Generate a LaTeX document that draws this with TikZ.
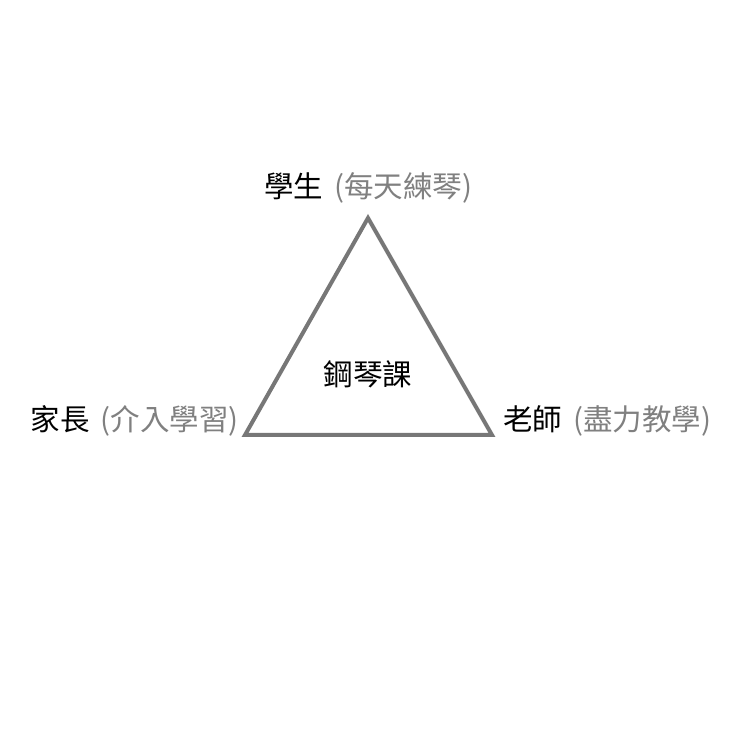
\documentclass[tikz,border=0pt]{standalone}
\usepackage{fontspec}
\setmainfont{Noto Sans CJK TC}
\definecolor{tri}{HTML}{777777}
\definecolor{sub}{HTML}{808080}
\newcommand{\gapsp}{\hspace{11pt}}
\begin{document}
\begin{tikzpicture}[x=1pt,y=1pt,
  lbl/.style={inner sep=0pt,font=\fontsize{29.5}{33}\selectfont,text=black},
  edge/.style={draw=tri,line width=4pt,line join=miter}]
\useasboundingbox (0,0) rectangle (740,740);
\coordinate (A) at (368,522);
\coordinate (B) at (245,305);
\coordinate (C) at (492,305);
\draw[edge] (A) -- (B) -- (C) -- cycle;
\node[lbl] (center) at (368,366) {鋼琴課};
\node[lbl] (student) at (368,552) {學生\gapsp\textcolor{sub}{(每天練琴)}};
\node[lbl,anchor=east] (parent) at (239,319) {家長\gapsp\textcolor{sub}{(介入學習)}};
\node[lbl,anchor=west] (teacher) at (503,319) {老師\gapsp\textcolor{sub}{(盡力教學)}};
\end{tikzpicture}
\end{document}
